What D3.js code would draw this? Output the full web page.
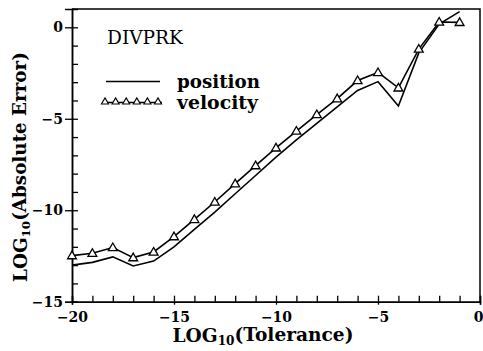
<!DOCTYPE html>
<html><head><meta charset="utf-8">
<script src="https://cdn.jsdelivr.net/npm/d3@7"></script>
<style>html,body{margin:0;padding:0;background:#fff;}svg{display:block;}</style>
</head><body>
<svg id="c" width="483" height="351"></svg>
<script>
const tolerance = [-20,-19,-18,-17,-16,-15,-14,-13,-12,-11,-10,-9,-8,-7,-6,-5,-4,-3,-2,-1];
const position = [-13.0,-12.85,-12.55,-13.05,-12.78,-12.0,-11.05,-10.1,-9.1,-8.1,-7.1,-6.15,-5.25,-4.35,-3.45,-2.97,-4.3,-1.4,0.18,0.86];
const velocity = [-12.48,-12.35,-12.04,-12.59,-12.28,-11.44,-10.5,-9.55,-8.55,-7.56,-6.59,-5.67,-4.77,-3.9,-2.91,-2.47,-3.31,-1.19,0.29,0.27];
const xMajor = [-20,-15,-10,-5,0];
const yMajor = [0,-5,-10,-15];
const titleText = "DIVPRK";
const seriesNames = ["position","velocity"];

const svg = d3.select("#c");
const L=72, R=480, T=9, B=301.7;
const x = d3.scaleLinear().domain([-20,0]).range([L,R]);
const y = d3.scaleLinear().domain([-15,1]).range([B,T]);
const font = "'DejaVu Serif'";
const fmt = d=>d===0?"0":"\u2212"+Math.abs(d);

function fit(sel, w){
  const base = +sel.attr("font-size");
  const len = sel.node().getComputedTextLength();
  sel.attr("font-size", base*w/len);
  return sel;
}

// frame
svg.append("path").attr("d",`M${L},${T}H${R}V${B}`).attr("fill","none").attr("stroke","#000").attr("stroke-width",1.5);

// axes
const xMinor = d3.range(-20,1,1);
const yMinor = d3.range(-15,1,1);
const gx = svg.append("g").attr("transform",`translate(0,${B})`);
gx.call(d3.axisBottom(x).tickValues(xMinor).tickSize(-6).tickFormat(""));
gx.append("g").call(d3.axisBottom(x).tickValues(xMajor).tickSize(3).tickPadding(7).tickFormat(fmt));
const gy = svg.append("g").attr("transform",`translate(${L},0)`);
gy.call(d3.axisLeft(y).tickValues(yMinor).tickSize(-6).tickFormat(""));
gy.append("g").call(d3.axisLeft(y).tickValues(yMajor).tickSize(7).tickPadding(2).tickFormat(fmt));
svg.selectAll(".domain").attr("stroke","#000").attr("stroke-width",1.5);
svg.selectAll(".tick line").attr("stroke","#000").attr("stroke-width",1.3);
svg.selectAll("g").attr("font-family",font);
svg.selectAll(".tick text").attr("font-family",font).attr("font-weight","bold").attr("font-size",14).attr("fill","#000");
// keep the right-edge "0" inside the window
gx.selectAll(".tick text").filter(d=>d===0).attr("text-anchor","end").attr("x",3);

// lines
const line = d3.line().x((d,i)=>x(tolerance[i])).y(d=>y(d));
svg.append("path").attr("d",line(position)).attr("fill","none").attr("stroke","#000").attr("stroke-width",1.6);
svg.append("path").attr("d",line(velocity)).attr("fill","none").attr("stroke","#000").attr("stroke-width",1.6);
const tri = d3.symbol().type(d3.symbolTriangle).size(34);
svg.selectAll(".m").data(velocity).enter().append("path")
  .attr("d",tri).attr("transform",(d,i)=>`translate(${x(tolerance[i])},${y(d)+0.6})`)
  .attr("fill","#fff").attr("stroke","#000").attr("stroke-width",1.3);

// title
fit(svg.append("text").attr("x",107).attr("y",44).attr("font-family",font).attr("font-size",17).attr("fill","#000").text(titleText), 76);

// legend
svg.append("line").attr("x1",106).attr("x2",160).attr("y1",81.5).attr("y2",81.5).attr("stroke","#000").attr("stroke-width",1.6);
svg.append("line").attr("x1",103).attr("x2",162).attr("y1",102.5).attr("y2",102.5).attr("stroke","#000").attr("stroke-width",1.6);
const lx = d3.range(6).map(i=>105+i*10.6);
svg.selectAll(".lm").data(lx).enter().append("path").attr("d",d3.symbol().type(d3.symbolTriangle).size(22))
  .attr("transform",d=>`translate(${d},${102})`).attr("fill","#fff").attr("stroke","#000").attr("stroke-width",1.1);
fit(svg.append("text").attr("x",177).attr("y",87.5).attr("font-family",font).attr("font-weight","bold").attr("font-size",17).attr("fill","#000").text(seriesNames[0]), 83);
fit(svg.append("text").attr("x",177).attr("y",108.5).attr("font-family",font).attr("font-weight","bold").attr("font-size",17).attr("fill","#000").text(seriesNames[1]), 81);

// axis titles
function logTitle(sel, rest){
  sel.append("tspan").text("LOG");
  sel.append("tspan").attr("font-size","0.65em").attr("dy","0.22em").text("10");
  sel.append("tspan").attr("dy","-0.22em").text(rest);
}
const xt = svg.append("text").attr("x",263).attr("y",342).attr("text-anchor","middle")
  .attr("font-family",font).attr("font-weight","bold").attr("font-size",17).attr("fill","#000");
logTitle(xt,"(Tolerance)");
fit(xt, 181);
const yt = svg.append("text").attr("transform","translate(27,167) rotate(-90)").attr("text-anchor","middle")
  .attr("font-family",font).attr("font-weight","bold").attr("font-size",17).attr("fill","#000");
logTitle(yt,"(Absolute Error)");
fit(yt, 230);
</script>
</body></html>
